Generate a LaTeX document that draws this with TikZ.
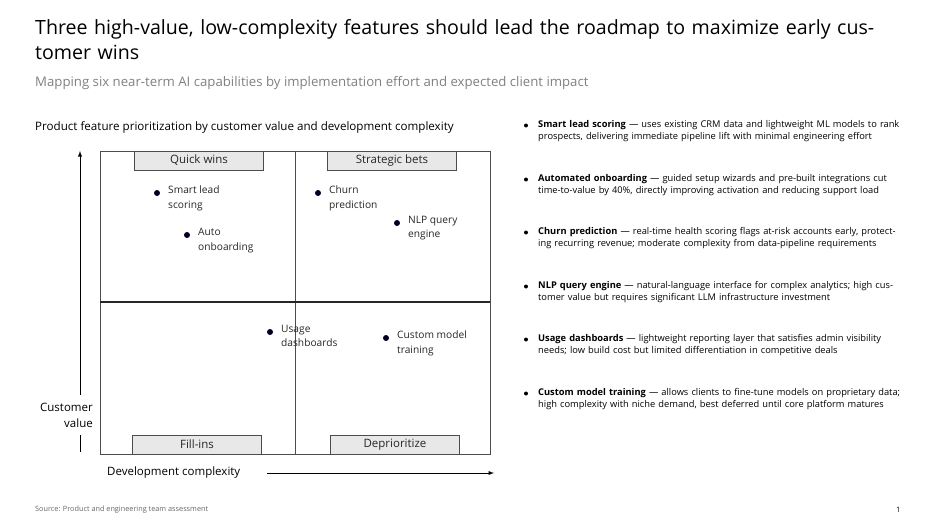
\documentclass[tikz,border=0pt]{standalone}
\usepackage{fontspec}
\setmainfont{Open Sans}
\begin{document}
\begin{tikzpicture}[x=1pt,y=-1pt,
  lbl/.style={anchor=north west,align=left,font=\fontsize{10.2}{14.5}\selectfont,text=black!85,inner sep=0},
  dot/.style={circle,fill=black!85!blue,inner sep=0,minimum size=6pt},
  qbox/.style={draw=black!70,fill=black!9,minimum width=129pt,minimum height=19pt,inner sep=0,font=\fontsize{11.5}{15}\selectfont,text=black!85},
  bl/.style={anchor=north west,text width=365pt,align=left,font=\fontsize{9.3}{12.6}\selectfont,inner sep=0},
  bdot/.style={circle,fill=black,inner sep=0,minimum size=4pt}]
\useasboundingbox (0,0) rectangle (938,527);
\node[anchor=north west,inner sep=0,text width=880pt,align=left,font=\fontsize{19.6}{25}\selectfont] (title) at (35,19) {Three high-value, low-complexity features should lead the roadmap to maximize early customer wins};
\node[anchor=north west,inner sep=0,font=\fontsize{13.2}{18}\selectfont,text=black!50] (sub) at (35,76) {Mapping six near-term AI capabilities by implementation effort and expected client impact};
\node[anchor=north west,inner sep=0,font=\fontsize{11.6}{15}\selectfont] (ct) at (35,121) {Product feature prioritization by customer value and development complexity};
% grid
\draw[black!70] (100,151) rectangle (490,454);
\draw[black!70] (295,151) -- (295,454);
\draw[black!85,line width=1.2pt] (100,302) -- (490,302);
\node[qbox] (q1) at (199,160.5) {Quick wins};
\node[qbox] (q2) at (392,160.5) {Strategic bets};
\node[qbox] (q3) at (197,444.5) {Fill-ins};
\node[qbox] (q4) at (395,444.5) {Deprioritize};
% axes
\coordinate (ya) at (80,395); \coordinate (yb) at (80,151);
\draw[-latex,line width=0.9pt] (ya) -- (yb);
\coordinate (yc) at (80,435); \coordinate (yd) at (80,452);
\draw[line width=0.9pt] (yc) -- (yd);
\node[anchor=east,align=right,inner sep=0,font=\fontsize{11.5}{16}\selectfont] (yl) at (93,415) {Customer\\value};
\node[anchor=west,inner sep=0,font=\fontsize{11.5}{16}\selectfont] (xl) at (107,473) {Development complexity};
\coordinate (xa) at (267,473); \coordinate (xb) at (494,473);
\draw[-latex,line width=0.9pt] (xa) -- (xb);
% points
\foreach \n/\x/\y/\t in {a/157/193/{Smart lead\\scoring},b/187/235/{Auto\\onboarding},c/318/193/{Churn\\prediction},d/397/223/{NLP query\\engine},e/270/332/{Usage\\dashboards},f/386/338/{Custom model\\training}}{
  \node[dot] (d\n) at (\x,\y) {};
  \node[lbl] (t\n) at (\x+11,\y-7) {\t};
}
% bullets
\foreach \n/\y/\t in {
 1/120/{\textbf{Smart lead scoring} — uses existing CRM data and lightweight ML models to rank prospects, delivering immediate pipeline lift with minimal engineering effort},
 2/174/{\textbf{Automated onboarding} — guided setup wizards and pre-built integrations cut time-to-value by 40\%, directly improving activation and reducing support load},
 3/227/{\textbf{Churn prediction} — real-time health scoring flags at-risk accounts early, protecting recurring revenue; moderate complexity from data-pipeline requirements},
 4/281/{\textbf{NLP query engine} — natural-language interface for complex analytics; high customer value but requires significant LLM infrastructure investment},
 5/334/{\textbf{Usage dashboards} — lightweight reporting layer that satisfies admin visibility needs; low build cost but limited differentiation in competitive deals},
 6/388/{\textbf{Custom model training} — allows clients to fine-tune models on proprietary data; high complexity with niche demand, best deferred until core platform matures}}{
  \node[bdot] (b\n) at (526,\y+5.5) {};
  \node[bl] (bt\n) at (538,\y) {\raggedright\hyphenpenalty=10000\t};
}
\node[anchor=west,inner sep=0,font=\fontsize{7.3}{10}\selectfont,text=black!60] (src) at (35,510) {Source: Product and engineering team assessment};
\node[anchor=west,inner sep=0,font=\fontsize{7.5}{10}\selectfont] (pg) at (896,510) {1};
\end{tikzpicture}
\end{document}
